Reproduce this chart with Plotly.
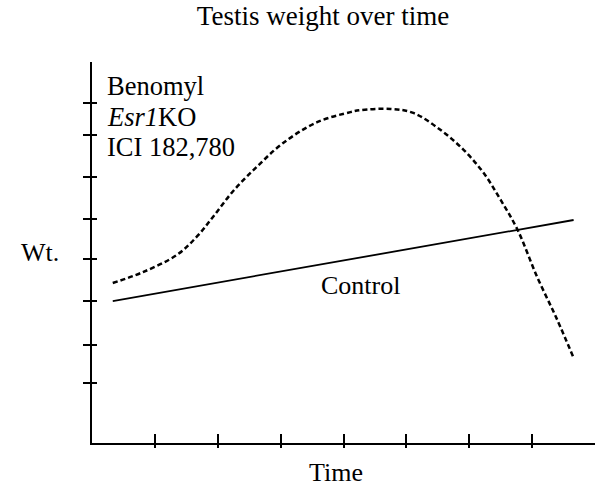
import plotly.graph_objects as go

# Data (arbitrary units)
time_ticks = [1, 2, 3, 4, 5, 6, 7]
wt_ticks = [1.5, 2.44, 3.54, 4.59, 5.59, 6.63, 7.68, 8.48]

treated_t = [0.33, 0.81, 1.35, 1.67, 1.93, 2.25, 2.63, 3.04, 3.58, 4.11, 4.27, 4.75,
             5.11, 5.54, 5.91, 6.23, 6.50, 6.77, 7.08, 7.40, 7.66]
treated_w = [3.99, 4.26, 4.69, 5.15, 5.65, 6.29, 6.90, 7.48, 8.00, 8.25, 8.30, 8.33,
             8.23, 7.81, 7.31, 6.73, 6.06, 5.31, 4.14, 3.07, 2.12]

control_t = [0.33, 7.66]
control_w = [3.54, 5.56]

x_range = [0, 8.0]
y_range = [0, 9.5]

FONT = "Liberation Serif"

fig = go.Figure()
fig.add_trace(go.Scatter(x=control_t, y=control_w, mode="lines",
                         line=dict(color="black", width=1.8), hoverinfo="skip"))
fig.add_trace(go.Scatter(x=treated_t, y=treated_w, mode="lines",
                         line=dict(color="black", width=2.5, dash="5px,3px", shape="spline", smoothing=1.0),
                         hoverinfo="skip"))
# dummy trace so the overlay axes render (for crossing ticks)
fig.add_trace(go.Scatter(x=[None], y=[None], xaxis="x2", yaxis="y2", showlegend=False, hoverinfo="skip"))

common = dict(showgrid=False, zeroline=False, showticklabels=False, tickcolor="black", tickwidth=2)

fig.update_layout(
    width=611, height=492,
    margin=dict(l=92, r=16, t=62, b=49),
    plot_bgcolor="white", paper_bgcolor="white",
    showlegend=False,
    font=dict(family=FONT, color="black"),
    title=dict(text="Testis weight over time", x=0.5286, xanchor="center", y=0.9675,
               yanchor="middle", font=dict(family=FONT, size=27, color="black")),
    xaxis=dict(range=x_range, tickvals=time_ticks, ticks="inside", ticklen=9,
               showline=True, linecolor="black", linewidth=2, **common),
    yaxis=dict(range=y_range, tickvals=wt_ticks, ticks="outside", ticklen=7,
               showline=True, linecolor="black", linewidth=2, **common),
    xaxis2=dict(range=x_range, tickvals=time_ticks, ticks="outside", ticklen=4,
                overlaying="x", side="bottom", showline=False, anchor="y2", **common),
    yaxis2=dict(range=y_range, tickvals=wt_ticks, ticks="inside", ticklen=5,
                overlaying="y", side="left", showline=False, anchor="x2", **common),
)

labels = [("Benomyl", 8.90), ("<i>Esr1</i>KO", 8.13), ("ICI 182,780", 7.37)]
for txt, yy in labels:
    fig.add_annotation(x=0.207, y=yy, xref="x", yref="y", text=txt, showarrow=False,
                       xanchor="left", yanchor="middle", font=dict(family=FONT, size=26.5, color="black"))

fig.add_annotation(x=4.27, y=3.93, xref="x", yref="y", text="Control", showarrow=False,
                   xanchor="center", yanchor="middle", font=dict(family=FONT, size=26, color="black"))
fig.add_annotation(x=-0.104, y=0.500, xref="paper", yref="paper", text="Wt.", showarrow=False,
                   xanchor="center", yanchor="middle", font=dict(family=FONT, size=26, color="black"))
fig.add_annotation(x=0.486, y=-0.0774, xref="paper", yref="paper", text="Time", showarrow=False,
                   xanchor="center", yanchor="middle", font=dict(family=FONT, size=26, color="black"))

fig.write_html("out.html", config={"displayModeBar": False},
               post_script="document.body.style.margin='0';document.body.style.padding='0';")
